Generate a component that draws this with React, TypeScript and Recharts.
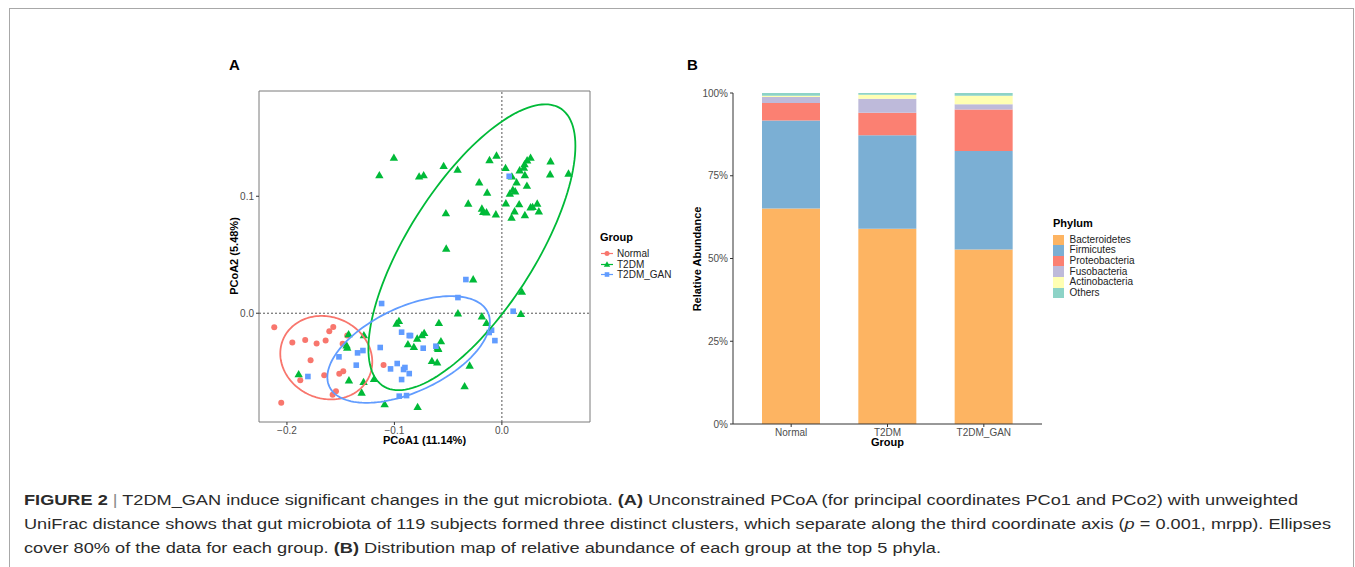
import React from "react";
import {
  ScatterChart,
  Scatter,
  BarChart,
  Bar,
  XAxis,
  YAxis,
  ReferenceLine,
  ReferenceArea,
} from "recharts";

// ---- Panel A: PCoA points (PCoA1, PCoA2) ----
const normalPoints: [number, number][] = [
  [-0.2118, -0.012], [-0.195, -0.025], [-0.183, -0.0228], [-0.1724, -0.0259],
  [-0.164, -0.0234], [-0.1606, -0.0154], [-0.1569, -0.0117], [-0.1439, -0.0191],
  [-0.1482, -0.0262], [-0.178, -0.0402], [-0.1876, -0.0573], [-0.1653, -0.053],
  [-0.1513, -0.0518], [-0.1476, -0.0496], [-0.1544, -0.0667], [-0.1575, -0.0698],
  [-0.2053, -0.0766], [-0.1101, -0.0442],
];

const t2dmPoints: [number, number][] = [
  [-0.1005, 0.133], [-0.114, 0.118], [-0.077, 0.117], [-0.0728, 0.118],
  [-0.0542, 0.126], [-0.0412, 0.1228], [-0.0115, 0.131], [-0.005, 0.1348],
  [0.0034, 0.1242], [0.0093, 0.117], [0.0165, 0.1222], [0.0205, 0.1245],
  [0.0211, 0.1274], [0.0235, 0.1308], [0.0267, 0.133], [0.0453, 0.1299],
  [0.0449, 0.1188], [0.062, 0.1194], [0.0214, 0.1182], [0.0137, 0.112],
  [0.0233, 0.1091], [0.0102, 0.1057], [0.0124, 0.1043], [0.0074, 0.1023],
  [-0.0211, 0.112], [-0.0137, 0.1032], [0.0037, 0.094], [0.0161, 0.0932],
  [0.0267, 0.0906], [0.0286, 0.0909], [0.0329, 0.0938], [0.0344, 0.0872],
  [0.0214, 0.084], [0.0118, 0.0872], [0.009, 0.0818], [-0.0056, 0.0846],
  [-0.0313, 0.0938], [-0.0186, 0.0895], [-0.0174, 0.0866], [-0.0143, 0.0863],
  [-0.0521, 0.0855], [-0.0518, 0.0553], [-0.0267, 0.029], [0.0186, 0.0185],
  [-0.0409, 0.0], [-0.0186, -0.0026], [-0.0143, -0.0083], [0.0177, -0.0006],
  [-0.0586, -0.0083], [-0.098, -0.0088], [-0.0958, -0.0066], [-0.0723, -0.0168],
  [-0.0744, -0.0188], [-0.0788, -0.0216], [-0.0874, -0.0265], [-0.0819, -0.0288],
  [-0.0567, -0.0239], [-0.0598, -0.0293], [-0.0592, -0.0305], [-0.0651, -0.0407],
  [-0.0602, -0.0421], [-0.03, -0.0447], [-0.0347, -0.0624], [-0.0784, -0.0801],
  [-0.1091, -0.0778], [-0.119, -0.0561], [-0.1284, -0.0188], [-0.1426, -0.0179],
  [-0.1445, -0.0274], [-0.1439, -0.0293], [-0.1423, -0.0573], [-0.1287, -0.0587],
  [-0.1305, -0.0678], [-0.1891, -0.0521],
];

const ganPoints: [number, number][] = [
  [0.0068, 0.1171], [-0.0335, 0.0288], [-0.0409, 0.0134], [-0.1119, 0.0083],
  [0.0105, 0.0017], [-0.0096, -0.0145], [-0.0118, -0.0165], [-0.0065, -0.0234],
  [-0.0933, -0.0162], [-0.0862, -0.0191], [-0.085, -0.0191], [-0.0732, -0.0299],
  [-0.0614, -0.0282], [-0.1132, -0.0293], [-0.1293, -0.0319], [-0.1343, -0.0339],
  [-0.1516, -0.0373], [-0.1355, -0.0444], [-0.0974, -0.043], [-0.1036, -0.0476],
  [-0.0915, -0.0481], [-0.0902, -0.0464], [-0.0862, -0.0516], [-0.0933, -0.0567],
  [-0.1805, -0.0541], [-0.0955, -0.0709], [-0.0887, -0.0704],
];

// 80% ellipses: centre, half extents and correlation
const ellipses = [
  { group: "Normal", cx: -0.1634, cy: -0.038, sx: 0.0428, sy: 0.0357, r: -0.1 },
  { group: "T2DM", cx: -0.0279, cy: 0.0564, sx: 0.0963, sy: 0.1222, r: 0.709 },
  { group: "T2DM_GAN", cx: -0.0868, cy: -0.031, sx: 0.0756, sy: 0.0456, r: 0.52 },
];

const groupColors: Record<string, string> = {
  Normal: "#F8766D",
  T2DM: "#00BA38",
  T2DM_GAN: "#619CFF",
};

const xTicksA = [-0.2, -0.1, 0];
const yTicksA = [0, 0.1];
const X_DOMAIN: [number, number] = [-0.226, 0.082];
const Y_DOMAIN: [number, number] = [-0.093, 0.19];

// ---- Panel B: relative abundance (%) ----
const groups = ["Normal", "T2DM", "T2DM_GAN"];
const phyla = ["Bacteroidetes", "Firmicutes", "Proteobacteria", "Fusobacteria", "Actinobacteria", "Others"];
const bacteroidetes = [65.1, 59.0, 52.7];
const firmicutes = [26.6, 28.2, 29.8];
const proteobacteria = [5.3, 6.8, 12.5];
const fusobacteria = [1.8, 4.3, 1.6];
const actinobacteria = [0.4, 1.2, 2.6];
const others = [0.8, 0.5, 0.8];
const yTicksB = [0, 25, 50, 75, 100];

const phylumColors = ["#FDB462", "#7BAFD4", "#FB8072", "#BEBADA", "#FFFFB3", "#8DD3C7"];

const FONT = "'Liberation Sans', Arial, Helvetica, sans-serif";

const toObj = (pts: [number, number][]) => pts.map(([x, y]) => ({ x, y }));

const ellipsePoints = (e: typeof ellipses[number]) => {
  const out: { x: number; y: number }[] = [];
  const k = Math.sqrt(1 - e.r * e.r);
  for (let i = 0; i <= 144; i++) {
    const t = (2 * Math.PI * i) / 144;
    out.push({
      x: e.cx + e.sx * Math.cos(t),
      y: e.cy + e.sy * (e.r * Math.cos(t) + k * Math.sin(t)),
    });
  }
  return out;
};

const CircleDot = (p: any) => <circle cx={p.cx} cy={p.cy} r={3} fill={groupColors.Normal} />;
const TriDot = (p: any) => {
  const s = 4.2;
  return (
    <polygon
      points={`${p.cx},${p.cy - s} ${p.cx + s},${p.cy + s * 0.75} ${p.cx - s},${p.cy + s * 0.75}`}
      fill={groupColors.T2DM}
    />
  );
};
const SquareDot = (p: any) => <rect x={p.cx - 2.8} y={p.cy - 2.8} width={5.6} height={5.6} fill={groupColors.T2DM_GAN} />;
const NoDot = () => <g />;

const fmtA = (v: number) => (v < 0 ? "\u2212" + Math.abs(v).toFixed(1) : v.toFixed(1));

const captionLines: { text: string; bold?: boolean; italic?: boolean; color?: string }[][] = [
  [
    { text: "FIGURE 2", bold: true },
    { text: " " },
    { text: "|", color: "#8a8a8a" },
    { text: " T2DM_GAN induce significant changes in the gut microbiota. " },
    { text: "(A)", bold: true },
    { text: " Unconstrained PCoA (for principal coordinates PCo1 and PCo2) with unweighted" },
  ],
  [
    { text: "UniFrac distance shows that gut microbiota of 119 subjects formed three distinct clusters, which separate along the third coordinate axis (" },
    { text: "p", italic: true },
    { text: " = 0.001, mrpp). Ellipses" },
  ],
  [
    { text: "cover 80% of the data for each group. " },
    { text: "(B)", bold: true },
    { text: " Distribution map of relative abundance of each group at the top 5 phyla." },
  ],
];
const captionWidths = [1274, 1307, 917];

export default function App() {
  const barData = groups.map((g, i) => ({
    group: g,
    Bacteroidetes: bacteroidetes[i],
    Firmicutes: firmicutes[i],
    Proteobacteria: proteobacteria[i],
    Fusobacteria: fusobacteria[i],
    Actinobacteria: actinobacteria[i],
    Others: others[i],
  }));

  const tickStyle = { fill: "#4d4d4d", fontSize: 10, fontFamily: FONT };

  return (
    <div style={{ position: "absolute", left: 0, top: 0, width: 1355, height: 567, overflow: "hidden", background: "#fff", fontFamily: FONT }}>
      <div style={{ position: "absolute", left: 9, top: 8, width: 1343, height: 700, border: "1px solid #a8a8a8" }} />

      {/* Panel A */}
      <div style={{ position: "absolute", left: 229, top: 56, fontWeight: "bold", fontSize: 15 }}>A</div>
      <div style={{ position: "absolute", left: 200, top: 80 }}>
        <ScatterChart width={395} height={380} margin={{ top: 11, right: 5, left: 0, bottom: 0 }}>
          <XAxis
            type="number"
            dataKey="x"
            domain={X_DOMAIN}
            allowDataOverflow
            ticks={xTicksA}
            tickFormatter={fmtA}
            tick={tickStyle}
            tickSize={3}
            tickLine={{ stroke: "#333" }}
            axisLine={false}
            height={38}
          />
          <YAxis
            type="number"
            dataKey="y"
            domain={Y_DOMAIN}
            allowDataOverflow
            ticks={yTicksA}
            tickFormatter={fmtA}
            tick={tickStyle}
            tickSize={3}
            tickLine={{ stroke: "#333" }}
            axisLine={false}
            width={59}
          />
          <ReferenceArea x1={X_DOMAIN[0]} x2={X_DOMAIN[1]} y1={Y_DOMAIN[0]} y2={Y_DOMAIN[1]} fill="none" stroke="#7a7a7a" strokeWidth={1} ifOverflow="visible" />
          <ReferenceLine x={0} stroke="#555" strokeDasharray="2 2" />
          <ReferenceLine y={0} stroke="#555" strokeDasharray="2 2" />
          <Scatter data={toObj(normalPoints)} shape={CircleDot} isAnimationActive={false} />
          <Scatter data={toObj(t2dmPoints)} shape={TriDot} isAnimationActive={false} />
          <Scatter data={toObj(ganPoints)} shape={SquareDot} isAnimationActive={false} />
          {ellipses.map((e) => (
            <Scatter
              key={e.group}
              data={ellipsePoints(e)}
              shape={NoDot}
              line={{ stroke: groupColors[e.group], strokeWidth: 1.8 }}
              lineType="joint"
              isAnimationActive={false}
            />
          ))}
        </ScatterChart>
      </div>
      <div style={{ position: "absolute", left: 259, width: 331, top: 434, textAlign: "center", fontWeight: "bold", fontSize: 11 }}>
        PCoA1 (11.14%)
      </div>
      <div
        style={{
          position: "absolute",
          left: 234,
          top: 256,
          transform: "translate(-50%, -50%) rotate(-90deg)",
          whiteSpace: "nowrap",
          fontWeight: "bold",
          fontSize: 11,
        }}
      >
        PCoA2 (5.48%)
      </div>

      {/* Legend A */}
      <div style={{ position: "absolute", left: 600, top: 231, fontWeight: "bold", fontSize: 11 }}>Group</div>
      {groups.map((g, i) => (
        <div key={g} style={{ position: "absolute", left: 600, top: 248 + i * 10.5, height: 11, display: "flex", alignItems: "center" }}>
          <svg width={14} height={11}>
            <line x1={1} x2={13} y1={5.5} y2={5.5} stroke={groupColors[g]} strokeWidth={1.2} />
            {i === 0 && <circle cx={7} cy={5.5} r={2.5} fill={groupColors[g]} />}
            {i === 1 && <polygon points="7,2.2 10.2,7.8 3.8,7.8" fill={groupColors[g]} />}
            {i === 2 && <rect x={4.7} y={3.2} width={4.6} height={4.6} fill={groupColors[g]} />}
          </svg>
          <span style={{ fontSize: 10, marginLeft: 3, color: "#222" }}>{g}</span>
        </div>
      ))}

      {/* Panel B */}
      <div style={{ position: "absolute", left: 687, top: 56, fontWeight: "bold", fontSize: 15 }}>B</div>
      <div style={{ position: "absolute", left: 680, top: 80 }}>
        <BarChart width={370} height={380} data={barData} margin={{ top: 13, right: 8, left: 0, bottom: 0 }}>
          <XAxis
            dataKey="group"
            padding={{ left: 10, right: 10 }}
            tick={tickStyle}
            tickSize={3}
            tickLine={{ stroke: "#333" }}
            axisLine={{ stroke: "#333" }}
            height={36}
            interval={0}
          />
          <YAxis
            type="number"
            domain={[0, 100]}
            ticks={yTicksB}
            tickFormatter={(v: number) => `${v}%`}
            tick={tickStyle}
            tickSize={3}
            tickLine={{ stroke: "#333" }}
            axisLine={{ stroke: "#333" }}
            width={53}
          />
          {phyla.map((p, i) => (
            <Bar key={p} dataKey={p} stackId="a" fill={phylumColors[i]} barSize={58} isAnimationActive={false} />
          ))}
        </BarChart>
      </div>
      <div style={{ position: "absolute", left: 733, width: 309, top: 436, textAlign: "center", fontWeight: "bold", fontSize: 11 }}>
        Group
      </div>
      <div
        style={{
          position: "absolute",
          left: 697,
          top: 259,
          transform: "translate(-50%, -50%) rotate(-90deg)",
          whiteSpace: "nowrap",
          fontWeight: "bold",
          fontSize: 11,
        }}
      >
        Relative Abundance
      </div>

      {/* Legend B */}
      <div style={{ position: "absolute", left: 1053, top: 217, fontWeight: "bold", fontSize: 11 }}>Phylum</div>
      {phyla.map((p, i) => (
        <div key={p} style={{ position: "absolute", left: 1053, top: 234.5 + i * 10.65, height: 10.6, display: "flex", alignItems: "center" }}>
          <div style={{ width: 10.6, height: 10.6, background: phylumColors[i] }} />
          <span style={{ fontSize: 10, marginLeft: 6, color: "#222", lineHeight: "10px" }}>{p}</span>
        </div>
      ))}

      {/* Caption */}
      <svg width={1355} height={567} style={{ position: "absolute", left: 0, top: 0, pointerEvents: "none" }}>
        {captionLines.map((segs, li) => (
          <text
            key={li}
            x={24}
            y={505 + li * 24}
            fontSize={15.5}
            fontFamily={FONT}
            fill="#2b2b2b"
            textLength={captionWidths[li]}
            lengthAdjust="spacingAndGlyphs"
          >
            {segs.map((s, si) => (
              <tspan
                key={si}
                fontWeight={s.bold ? "bold" : "normal"}
                fontStyle={s.italic ? "italic" : "normal"}
                fill={s.color || "#2b2b2b"}
                style={{ whiteSpace: "pre" }}
              >
                {s.text}
              </tspan>
            ))}
          </text>
        ))}
      </svg>
    </div>
  );
}
